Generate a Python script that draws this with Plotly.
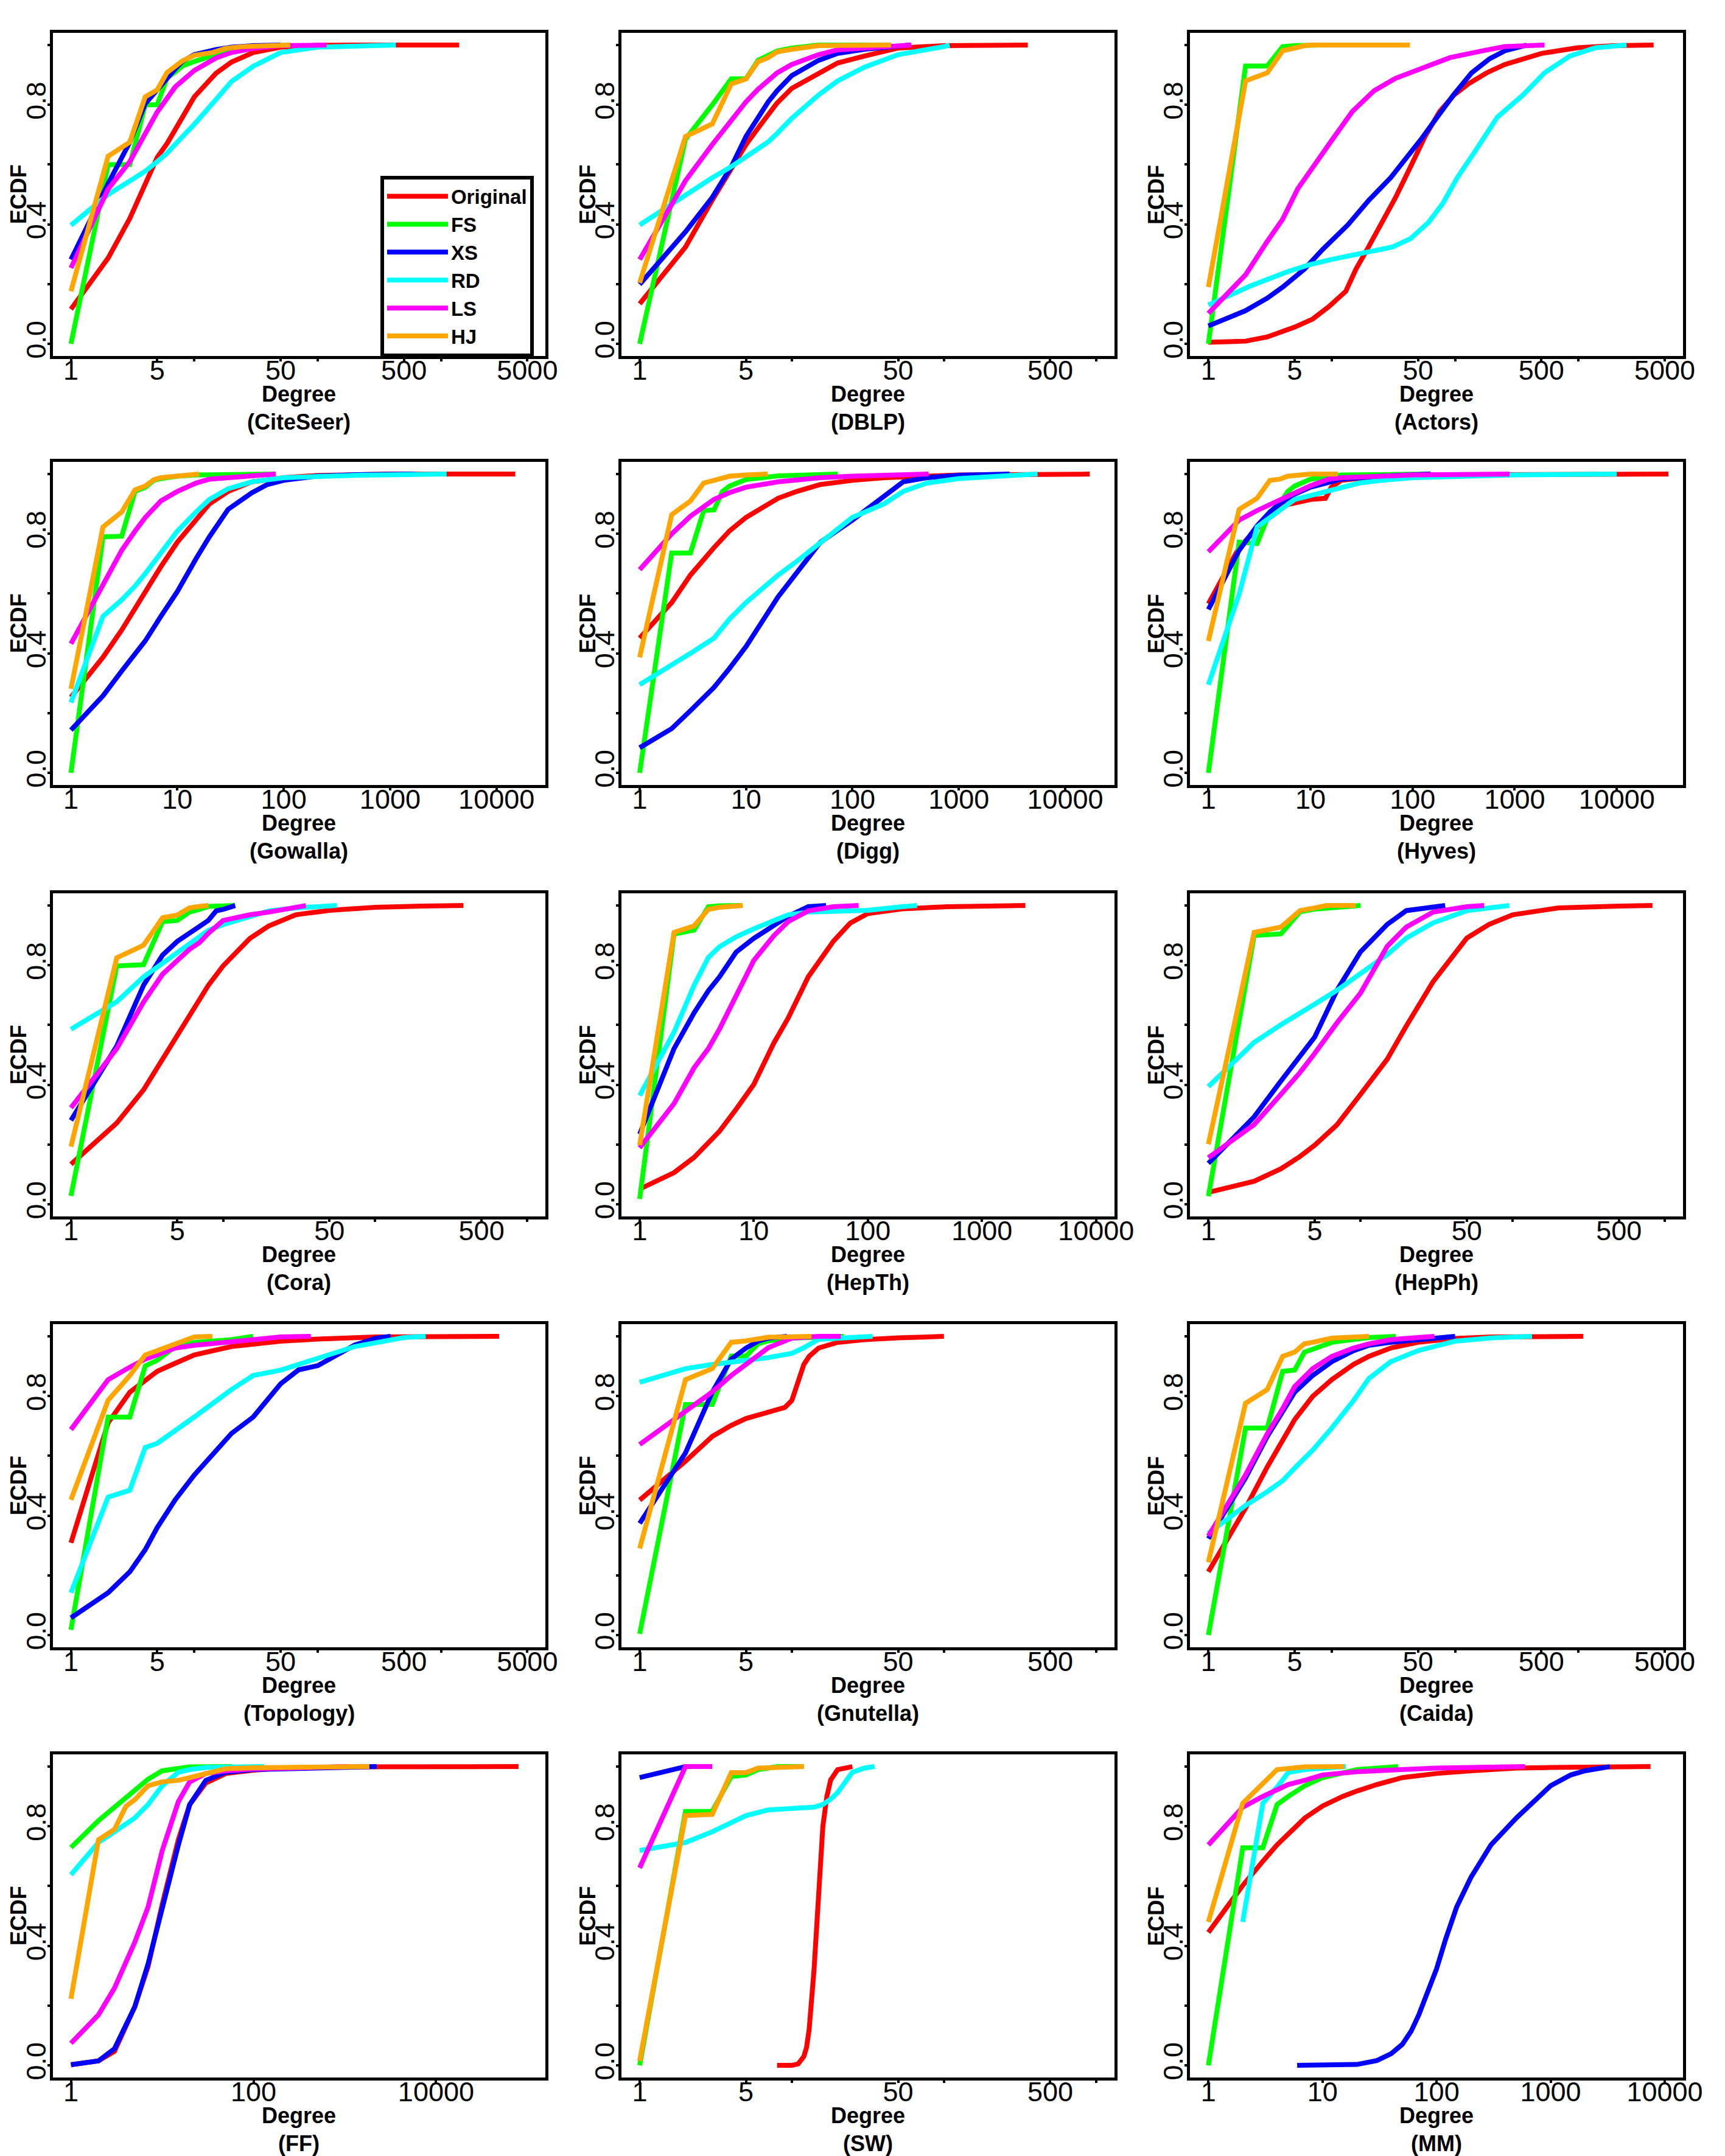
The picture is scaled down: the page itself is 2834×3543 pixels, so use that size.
import math
import plotly.graph_objects as go

W, H = 2834, 3543

METHODS = ["Original", "FS", "XS", "RD", "LS", "HJ"]
COLORS = ["#FF0000", "#00FF00", "#0000FF", "#00FFFF", "#FF00FF", "#FFA500"]

DATASETS = ["CiteSeer", "DBLP", "Actors", "Gowalla", "Digg", "Hyves",
            "Cora", "HepTh", "HepPh", "Topology", "Gnutella", "Caida",
            "FF", "SW", "MM"]
XLIM_MAX = [5000, 1000, 5000, 19500, 19500, 29500,
            1000, 10000, 1000, 5000, 1000, 5000,
            100000, 1000, 10000]

Y_TICKS = [0, 0.2, 0.4, 0.6, 0.8, 1.0]
Y_TICK_TEXT = ["0.0", "", "0.4", "", "0.8", ""]
X_TICKS_15 = [1, 5, 10, 50, 100, 500, 1000, 5000]
X_TEXT_15 = ["1", "5", "", "50", "", "500", "", "5000"]
X_TICKS_DEC = [1, 10, 100, 1000, 10000]
X_TEXT_DEC = ["1", "10", "100", "1000", "10000"]
X_TICKS_FF = [1, 100, 10000]
X_TEXT_FF = ["1", "100", "10000"]

# ---- ECDF curves: method -> (degrees, ecdf) ----
CITESEER = {
    "Original": ([1, 2, 3, 4, 5, 6, 7, 8, 10, 15, 20, 30, 50, 100, 200, 1400],
                 [0.116, 0.287, 0.42, 0.53, 0.624, 0.67, 0.72, 0.758, 0.827, 0.906, 0.943, 0.975, 0.993, 0.999, 1.0, 1.0]),
    "FS": ([1, 2, 3, 4, 5, 6, 7, 8, 10, 15, 20, 30, 60],
           [0.0, 0.6, 0.6, 0.80, 0.80, 0.89, 0.91, 0.93, 0.945, 0.97, 0.985, 0.995, 1.0]),
    "XS": ([1, 2, 3, 4, 5, 6, 7, 8, 10, 15, 20, 30, 50],
           [0.282, 0.536, 0.675, 0.804, 0.85, 0.89, 0.92, 0.945, 0.968, 0.985, 0.993, 0.998, 1.0]),
    "RD": ([1, 2, 3, 4, 5, 6, 8, 10, 15, 20, 30, 50, 100, 200, 430],
           [0.397, 0.5, 0.545, 0.578, 0.61, 0.638, 0.693, 0.735, 0.818, 0.878, 0.929, 0.975, 0.993, 0.998, 1.0]),
    "LS": ([1, 2, 3, 4, 5, 7, 10, 15, 20, 30, 50, 118],
           [0.254, 0.518, 0.61, 0.707, 0.776, 0.86, 0.915, 0.957, 0.975, 0.989, 0.998, 1.0]),
    "HJ": ([1, 2, 3, 4, 5, 6, 8, 10, 14, 18, 25, 60],
           [0.176, 0.628, 0.675, 0.827, 0.85, 0.908, 0.947, 0.966, 0.975, 0.989, 0.995, 1.0]),
}
DBLP = {
    "Original": ([1, 2, 3, 4, 5, 6, 7, 8, 10, 15, 20, 30, 50, 100, 356],
                 [0.134, 0.324, 0.481, 0.583, 0.667, 0.722, 0.769, 0.806, 0.855, 0.907, 0.94, 0.963, 0.99, 0.998, 1.0]),
    "FS": ([1, 2, 3, 4, 5, 6, 8, 10, 15, 45],
           [0.0, 0.685, 0.80, 0.887, 0.887, 0.949, 0.98, 0.99, 1.0, 1.0]),
    "XS": ([1, 2, 3, 4, 5, 6, 7, 8, 10, 15, 20, 30, 50, 60],
           [0.199, 0.375, 0.49, 0.593, 0.694, 0.759, 0.81, 0.847, 0.898, 0.949, 0.972, 0.986, 0.995, 1.0]),
    "RD": ([1, 2, 3, 4, 5, 6, 7, 8, 10, 15, 20, 30, 50, 100, 109],
           [0.398, 0.5, 0.556, 0.593, 0.625, 0.653, 0.676, 0.704, 0.755, 0.833, 0.88, 0.926, 0.968, 0.995, 1.0]),
    "LS": ([1, 2, 3, 4, 5, 6, 7, 8, 10, 15, 20, 30, 50, 61],
           [0.282, 0.546, 0.667, 0.75, 0.81, 0.852, 0.884, 0.907, 0.935, 0.968, 0.984, 0.99, 0.998, 1.0]),
    "HJ": ([1, 2, 3, 4, 5, 6, 7, 8, 10, 15, 45],
           [0.204, 0.694, 0.736, 0.87, 0.887, 0.944, 0.958, 0.977, 0.986, 0.998, 1.0]),
}
ACTORS = {
    "Original": ([1, 2, 3, 5, 7, 9.5, 13, 15.7, 19.3, 25, 33, 43.5, 57, 75, 98, 128, 180, 253, 355, 500, 980, 1930, 4060],
                 [0.005, 0.009, 0.023, 0.056, 0.083, 0.125, 0.176, 0.25, 0.315, 0.398, 0.491, 0.593, 0.694, 0.778, 0.833, 0.87, 0.907, 0.935, 0.954, 0.972, 0.991, 0.998, 1.0]),
    "FS": ([1, 2, 3, 4, 5, 6, 8],
           [0.0, 0.93, 0.93, 0.995, 0.998, 1.0, 1.0]),
    "XS": ([1, 2, 3, 4, 6, 8.4, 13.5, 20, 30, 40, 53, 69, 97, 136, 190, 253, 380],
           [0.06, 0.111, 0.153, 0.19, 0.25, 0.315, 0.398, 0.481, 0.556, 0.62, 0.685, 0.75, 0.833, 0.907, 0.954, 0.981, 1.0]),
    "RD": ([1, 2.2, 4.35, 6.5, 9.8, 16.8, 31, 43.5, 61, 80, 104, 147, 220, 355, 530, 850, 1370, 2450],
           [0.13, 0.194, 0.241, 0.264, 0.282, 0.301, 0.324, 0.352, 0.407, 0.472, 0.556, 0.648, 0.759, 0.833, 0.907, 0.963, 0.991, 1.0]),
    "LS": ([1, 2, 3, 4, 5.3, 7, 9.8, 14.7, 22, 33, 50, 91, 168, 253, 530],
           [0.102, 0.231, 0.343, 0.417, 0.519, 0.593, 0.676, 0.778, 0.847, 0.889, 0.917, 0.958, 0.981, 0.995, 1.0]),
    "HJ": ([1, 2, 3, 4, 5, 6, 7, 43],
           [0.19, 0.88, 0.907, 0.981, 0.99, 0.998, 1.0, 1.0]),
}
GOWALLA = {
    "Original": ([1, 2, 3, 4, 5, 7, 10, 20, 30, 50, 100, 200, 1000, 15000],
                 [0.253, 0.387, 0.478, 0.552, 0.607, 0.69, 0.772, 0.9, 0.942, 0.974, 0.988, 0.995, 1.0, 1.0]),
    "FS": ([1, 2, 3, 4, 5, 6, 7, 10, 15, 84],
           [0.0, 0.79, 0.792, 0.942, 0.956, 0.979, 0.985, 0.993, 0.997, 1.0]),
    "XS": ([1, 2, 3, 4, 5, 7, 10, 15, 20, 30, 50, 70, 100, 200, 500, 1700],
           [0.143, 0.258, 0.341, 0.396, 0.442, 0.524, 0.607, 0.717, 0.79, 0.882, 0.937, 0.965, 0.979, 0.993, 0.998, 1.0]),
    "RD": ([1, 2, 3, 4, 5, 7, 10, 15, 20, 30, 50, 100, 500, 3400],
           [0.235, 0.524, 0.579, 0.625, 0.667, 0.735, 0.809, 0.873, 0.915, 0.951, 0.974, 0.988, 0.996, 1.0]),
    "LS": ([1, 2, 3, 4, 5, 7, 10, 15, 20, 50, 84],
           [0.432, 0.625, 0.745, 0.809, 0.855, 0.91, 0.942, 0.97, 0.983, 0.994, 1.0]),
    "HJ": ([1, 2, 3, 4, 5, 6, 7, 10, 16],
           [0.281, 0.823, 0.873, 0.947, 0.96, 0.981, 0.988, 0.994, 1.0]),
}
DIGG = {
    "Original": ([1, 2, 3, 4, 5, 7, 10, 20, 30, 50, 100, 200, 500, 1000, 17000],
                 [0.451, 0.57, 0.662, 0.717, 0.754, 0.81, 0.855, 0.919, 0.942, 0.965, 0.979, 0.988, 0.994, 0.997, 1.0]),
    "FS": ([1, 2, 3, 4, 5, 6, 7, 10, 20, 73],
           [0.0, 0.736, 0.736, 0.878, 0.88, 0.942, 0.96, 0.982, 0.994, 1.0]),
    "XS": ([1, 2, 3, 4, 5, 7, 10, 20, 30, 50, 100, 200, 300, 500, 1000, 3000],
           [0.084, 0.148, 0.208, 0.249, 0.286, 0.35, 0.423, 0.589, 0.671, 0.772, 0.846, 0.928, 0.974, 0.988, 0.996, 1.0]),
    "RD": ([1, 2, 3, 5, 7, 10, 20, 30, 50, 100, 200, 300, 500, 1000, 3000, 5500],
           [0.295, 0.359, 0.4, 0.451, 0.515, 0.57, 0.662, 0.708, 0.772, 0.855, 0.901, 0.942, 0.97, 0.985, 0.995, 1.0]),
    "LS": ([1, 2, 3, 4, 5, 7, 10, 20, 50, 100, 200, 520],
           [0.68, 0.8, 0.859, 0.892, 0.915, 0.938, 0.956, 0.974, 0.988, 0.993, 0.997, 1.0]),
    "HJ": ([1, 2, 3, 4, 5, 7, 10, 16],
           [0.387, 0.864, 0.91, 0.97, 0.979, 0.993, 0.997, 1.0]),
}
HYVES = {
    "Original": ([1, 2, 3, 4, 5, 7, 10, 14, 16, 20, 50, 100, 32000],
                 [0.566, 0.754, 0.818, 0.868, 0.892, 0.905, 0.915, 0.919, 0.956, 0.979, 0.993, 0.997, 1.0]),
    "FS": ([1, 2, 3, 4, 5, 6, 7, 10, 20, 150],
           [0.0, 0.772, 0.768, 0.873, 0.901, 0.942, 0.96, 0.983, 0.997, 1.0]),
    "XS": ([1, 2, 3, 4, 5, 7, 10, 15, 20, 50, 150],
           [0.547, 0.745, 0.827, 0.873, 0.901, 0.933, 0.956, 0.974, 0.983, 0.993, 1.0]),
    "RD": ([1, 2, 3, 4, 5, 7, 10, 15, 20, 30, 50, 100, 1000, 10000],
           [0.295, 0.598, 0.823, 0.855, 0.878, 0.915, 0.928, 0.942, 0.956, 0.97, 0.979, 0.988, 0.997, 1.0]),
    "LS": ([1, 2, 3, 5, 7, 10, 15, 20, 50, 100, 890],
           [0.74, 0.846, 0.878, 0.915, 0.938, 0.961, 0.983, 0.988, 0.993, 0.997, 1.0]),
    "HJ": ([1, 2, 3, 4, 5, 6, 10, 18.5],
           [0.441, 0.882, 0.919, 0.979, 0.983, 0.993, 1.0, 1.0]),
}
CORA = {
    "Original": ([1, 2, 3, 4, 5, 6, 7, 8, 10, 15, 20, 30, 50, 100, 200, 380],
                 [0.134, 0.272, 0.383, 0.484, 0.567, 0.632, 0.687, 0.733, 0.798, 0.89, 0.932, 0.969, 0.984, 0.994, 0.998, 1.0]),
    "FS": ([1, 2, 3, 4, 5, 6, 7, 8, 12],
           [0.028, 0.798, 0.802, 0.946, 0.95, 0.978, 0.987, 0.997, 1.0]),
    "XS": ([1, 2, 3, 4, 5, 6, 7, 8, 9, 10, 12],
           [0.281, 0.53, 0.733, 0.834, 0.88, 0.907, 0.932, 0.95, 0.982, 0.987, 1.0]),
    "RD": ([1, 2, 3, 4, 5, 6, 7, 8, 10, 15, 20, 30, 50, 56],
           [0.586, 0.678, 0.761, 0.807, 0.839, 0.867, 0.894, 0.917, 0.936, 0.964, 0.982, 0.992, 0.998, 1.0]),
    "LS": ([1, 2, 3, 4, 5, 6, 7, 8, 10, 15, 20, 30, 35],
           [0.323, 0.521, 0.677, 0.77, 0.816, 0.853, 0.876, 0.907, 0.95, 0.969, 0.978, 0.992, 1.0]),
    "HJ": ([1, 2, 3, 4, 5, 6, 7, 8],
           [0.193, 0.825, 0.867, 0.959, 0.968, 0.992, 0.997, 1.0]),
}
HEPTH = {
    "Original": ([1, 2, 3, 4, 5, 7, 10, 15, 20, 30, 50, 70, 100, 200, 500, 2400],
                 [0.051, 0.106, 0.157, 0.208, 0.244, 0.318, 0.401, 0.54, 0.623, 0.761, 0.881, 0.941, 0.973, 0.989, 0.996, 1.0]),
    "FS": ([1, 2, 3, 4, 5, 8],
           [0.018, 0.904, 0.918, 0.996, 0.999, 1.0]),
    "XS": ([1, 2, 3, 4, 5, 7, 10, 15, 20, 30, 43],
           [0.235, 0.521, 0.641, 0.715, 0.761, 0.844, 0.89, 0.936, 0.964, 0.996, 1.0]),
    "RD": ([1, 2, 3, 4, 5, 7, 10, 15, 20, 30, 100, 200, 270],
           [0.364, 0.576, 0.733, 0.826, 0.862, 0.895, 0.922, 0.95, 0.969, 0.978, 0.984, 0.996, 1.0]),
    "LS": ([1, 2, 3, 4, 5, 7, 10, 15, 20, 30, 50, 83],
           [0.189, 0.337, 0.457, 0.521, 0.586, 0.697, 0.816, 0.899, 0.946, 0.982, 0.996, 1.0]),
    "HJ": ([1, 2, 3, 4, 5, 8],
           [0.198, 0.91, 0.932, 0.987, 0.994, 1.0]),
}
HEPPH = {
    "Original": ([1, 2, 3, 4, 5, 7, 10, 15, 20, 30, 50, 70, 100, 200, 500, 830],
                 [0.04, 0.077, 0.119, 0.16, 0.198, 0.266, 0.368, 0.486, 0.597, 0.745, 0.891, 0.937, 0.969, 0.992, 0.998, 1.0]),
    "FS": ([1, 2, 3, 4, 5, 6, 10],
           [0.027, 0.9, 0.905, 0.979, 0.988, 0.992, 1.0]),
    "XS": ([1, 2, 3, 4, 5, 7, 10, 15, 20, 36],
           [0.137, 0.293, 0.413, 0.495, 0.56, 0.716, 0.845, 0.937, 0.983, 1.0]),
    "RD": ([1, 2, 3, 4, 5, 7, 10, 15, 20, 30, 50, 95],
           [0.394, 0.542, 0.601, 0.638, 0.67, 0.716, 0.772, 0.836, 0.891, 0.942, 0.983, 1.0]),
    "LS": ([1, 2, 3, 4, 5, 7, 10, 15, 20, 30, 50, 65],
           [0.156, 0.267, 0.368, 0.441, 0.505, 0.607, 0.707, 0.864, 0.928, 0.978, 0.996, 1.0]),
    "HJ": ([1, 2, 3, 4, 5, 6, 9.3],
           [0.201, 0.91, 0.928, 0.983, 0.992, 1.0, 1.0]),
}
TOPOLOGY = {
    "Original": ([1, 2, 3, 4, 5, 7, 10, 20, 30, 50, 100, 300, 2950],
                 [0.309, 0.711, 0.813, 0.855, 0.883, 0.91, 0.938, 0.966, 0.975, 0.984, 0.991, 0.998, 1.0]),
    "FS": ([1, 2, 3, 4, 5, 7, 10, 20, 30],
           [0.018, 0.73, 0.73, 0.901, 0.92, 0.966, 0.98, 0.989, 1.0]),
    "XS": ([1, 2, 3, 4, 5, 7, 10, 15, 20, 30, 50, 70, 100, 200, 300, 390],
           [0.058, 0.142, 0.212, 0.286, 0.36, 0.453, 0.536, 0.62, 0.675, 0.73, 0.841, 0.888, 0.902, 0.971, 0.994, 1.0]),
    "RD": ([1, 2, 3, 4, 5, 7, 10, 20, 30, 50, 70, 100, 200, 500, 750],
           [0.142, 0.462, 0.485, 0.628, 0.642, 0.684, 0.73, 0.822, 0.869, 0.887, 0.906, 0.929, 0.966, 0.996, 1.0]),
    "LS": ([1, 2, 3, 4, 5, 7, 10, 20, 30, 50, 88],
           [0.688, 0.855, 0.897, 0.924, 0.938, 0.961, 0.97, 0.98, 0.989, 0.998, 1.0]),
    "HJ": ([1, 2, 3, 4, 5, 7, 10, 14],
           [0.453, 0.786, 0.869, 0.938, 0.952, 0.975, 0.998, 1.0]),
}
GNUTELLA = {
    "Original": ([1, 2, 3, 4, 5, 7, 8, 9, 10, 11, 12, 13, 15, 20, 30, 50, 100],
                 [0.452, 0.582, 0.665, 0.702, 0.725, 0.748, 0.758, 0.762, 0.785, 0.85, 0.906, 0.933, 0.961, 0.98, 0.989, 0.995, 1.0]),
    "FS": ([1, 2, 3, 4, 5, 6, 7, 10, 22],
           [0.004, 0.772, 0.772, 0.934, 0.934, 0.975, 0.985, 0.994, 1.0]),
    "XS": ([1, 2, 3, 4, 5, 6, 7, 9.3],
           [0.374, 0.61, 0.813, 0.924, 0.961, 0.984, 0.994, 1.0]),
    "RD": ([1, 2, 3, 5, 7, 10, 12, 15, 20, 34],
           [0.846, 0.892, 0.906, 0.92, 0.929, 0.943, 0.962, 0.99, 0.994, 1.0]),
    "LS": ([1, 2, 3, 4, 5, 7, 10, 15, 21],
           [0.638, 0.749, 0.814, 0.869, 0.906, 0.962, 0.994, 1.0, 1.0]),
    "HJ": ([1, 2, 3, 4, 5, 7, 13.5],
           [0.29, 0.855, 0.892, 0.98, 0.985, 0.997, 1.0]),
}
CAIDA = {
    "Original": ([1, 2, 3, 4, 5, 7, 10, 15, 20, 30, 50, 100, 200, 1090],
                 [0.212, 0.425, 0.563, 0.656, 0.721, 0.799, 0.855, 0.906, 0.933, 0.961, 0.98, 0.993, 0.998, 1.0]),
    "FS": ([1, 2, 3, 4, 5, 6, 7, 10, 20, 33],
           [0.0, 0.693, 0.693, 0.883, 0.887, 0.947, 0.957, 0.98, 0.996, 1.0]),
    "XS": ([1, 2, 3, 4, 5, 7, 10, 15, 20, 30, 50, 100],
           [0.323, 0.526, 0.665, 0.748, 0.813, 0.869, 0.915, 0.952, 0.97, 0.98, 0.989, 1.0]),
    "RD": ([1, 2, 3, 4, 5, 7, 10, 15, 20, 30, 50, 100, 200, 420],
           [0.341, 0.434, 0.48, 0.517, 0.559, 0.619, 0.693, 0.785, 0.859, 0.915, 0.952, 0.984, 0.995, 1.0]),
    "LS": ([1, 2, 3, 4, 5, 7, 10, 15, 20, 30, 68],
           [0.332, 0.536, 0.674, 0.758, 0.832, 0.892, 0.933, 0.961, 0.975, 0.989, 1.0]),
    "HJ": ([1, 2, 3, 4, 5, 6, 7, 10, 20],
           [0.244, 0.776, 0.822, 0.933, 0.947, 0.975, 0.98, 0.994, 1.0]),
}
FF = {
    "Original": ([1, 2, 3, 5, 7, 10, 15, 20, 30, 50, 100, 200, 1000, 80000],
                 [0.002, 0.015, 0.047, 0.196, 0.331, 0.539, 0.755, 0.873, 0.945, 0.977, 0.988, 0.995, 0.999, 1.0]),
    "FS": ([1, 2, 3, 5, 7, 10, 15, 20, 58],
           [0.729, 0.819, 0.864, 0.922, 0.958, 0.986, 0.995, 0.999, 1.0]),
    "XS": ([1, 2, 3, 5, 7, 10, 15, 20, 30, 50, 100, 2240],
           [0.002, 0.015, 0.056, 0.196, 0.34, 0.53, 0.737, 0.873, 0.954, 0.981, 0.99, 1.0]),
    "RD": ([1, 2, 3, 5, 7, 10, 15, 20, 30, 130],
           [0.638, 0.746, 0.782, 0.828, 0.873, 0.936, 0.981, 0.99, 0.997, 1.0]),
    "LS": ([1, 2, 3, 5, 7, 10, 15, 20, 30, 50, 100, 1070],
           [0.074, 0.169, 0.259, 0.412, 0.53, 0.719, 0.882, 0.949, 0.977, 0.986, 0.992, 1.0]),
    "HJ": ([1, 2, 3, 4, 5, 7, 10, 15, 20, 30, 50, 100, 1860],
           [0.223, 0.755, 0.79, 0.867, 0.889, 0.936, 0.949, 0.954, 0.963, 0.977, 0.993, 0.996, 1.0]),
}
SW = {
    "Original": ([8, 10, 11, 12, 12.5, 13, 14, 15, 16, 17, 18, 20, 25],
                 [0.0, 0.0, 0.005, 0.03, 0.06, 0.12, 0.32, 0.6, 0.8, 0.9, 0.955, 0.99, 1.0]),
    "FS": ([1, 2, 3, 4, 5, 6, 7, 8, 12],
           [0.0, 0.85, 0.85, 0.967, 0.972, 0.99, 0.995, 1.0, 1.0]),
    "XS": ([1, 2],
           [0.963, 1.0]),
    "RD": ([1, 2, 3, 4, 5, 7, 10, 12, 14, 16, 18, 20, 22, 25, 30, 35],
           [0.719, 0.746, 0.782, 0.81, 0.836, 0.855, 0.859, 0.859, 0.864, 0.873, 0.891, 0.913, 0.94, 0.981, 0.995, 1.0]),
    "LS": ([1, 2, 3],
           [0.661, 1.0, 1.0]),
    "HJ": ([1, 2, 3, 4, 5, 6, 12],
           [0.015, 0.836, 0.84, 0.98, 0.98, 0.995, 1.0]),
}
MM = {
    "Original": ([1, 2, 3, 4, 5, 7, 10, 15, 20, 30, 50, 100, 200, 500, 1000, 7500],
                 [0.445, 0.602, 0.683, 0.738, 0.774, 0.828, 0.868, 0.9, 0.918, 0.94, 0.963, 0.977, 0.986, 0.995, 0.997, 1.0]),
    "FS": ([1, 2, 3, 4, 5, 7, 10, 20, 46],
           [0.0, 0.728, 0.728, 0.873, 0.9, 0.936, 0.963, 0.99, 1.0]),
    "XS": ([6, 10, 20, 30, 40, 50, 60, 70, 80, 100, 120, 150, 200, 300, 500, 700, 1000, 1500, 2000, 3300],
           [0.0, 0.0, 0.003, 0.016, 0.039, 0.07, 0.115, 0.17, 0.224, 0.323, 0.422, 0.53, 0.629, 0.738, 0.828, 0.882, 0.936, 0.972, 0.986, 1.0]),
    "RD": ([2, 3, 4, 5, 7, 10, 16],
           [0.48, 0.877, 0.931, 0.98, 0.99, 0.995, 1.0]),
    "LS": ([1, 2, 3, 5, 7, 10, 20, 50, 100, 595],
           [0.738, 0.864, 0.9, 0.94, 0.954, 0.972, 0.983, 0.99, 0.995, 1.0]),
    "HJ": ([1, 2, 4, 5, 7, 15.5],
           [0.48, 0.877, 0.99, 0.993, 0.999, 1.0]),
}

PANELS = [CITESEER, DBLP, ACTORS, GOWALLA, DIGG, HYVES, CORA, HEPTH, HEPPH,
          TOPOLOGY, GNUTELLA, CAIDA, FF, SW, MM]

# ---- layout geometry (pixels, measured at the frame line centres) ----
COL_LEFT = [77, 1022, 1967]
ROW_TOP = [44, 750, 1460, 2169, 2877]
BOX_W, BOX_H = 824, 536
LW = 5  # frame line width

FONT = "Liberation Sans, Arial, sans-serif"

fig = go.Figure()
annotations = []
layout = {}

for i, (dname, series) in enumerate(zip(DATASETS, PANELS)):
    r, c = divmod(i, 3)
    k = i + 1
    xname = "x" if k == 1 else f"x{k}"
    yname = "y" if k == 1 else f"y{k}"
    for m, col in zip(METHODS, COLORS):
        xs, ys = series[m]
        fig.add_trace(go.Scatter(
            x=xs, y=ys, mode="lines", name=m,
            line=dict(color=col, width=8),
            showlegend=(i == 0),
            xaxis=xname, yaxis=yname, hoverinfo="skip"))

    left, top = COL_LEFT[c], ROW_TOP[r]
    L = math.log10(XLIM_MAX[i])
    if dname == "FF":
        tv, tt = X_TICKS_FF, X_TEXT_FF
    elif XLIM_MAX[i] >= 10000:
        tv, tt = X_TICKS_DEC, X_TEXT_DEC
    else:
        pairs = [(v, t) for v, t in zip(X_TICKS_15, X_TEXT_15) if v <= XLIM_MAX[i] * 1.01]
        tv, tt = [p[0] for p in pairs], [p[1] for p in pairs]

    common = dict(showline=True, mirror=True, linecolor="black", linewidth=LW,
                  ticks="outside", ticklen=4, tickwidth=4, tickcolor="black",
                  showgrid=False, zeroline=False,
                  tickfont=dict(family=FONT, size=45, color="black"))
    half = LW / 2
    layout["xaxis" if k == 1 else f"xaxis{k}"] = dict(
        domain=[(left + half) / W, (left + BOX_W - half) / W], anchor=yname,
        type="log", range=[-0.04 * L, 1.04 * L],
        tickmode="array", tickvals=tv, ticktext=tt, tickangle=0,
        ticklabelstandoff=-24, **common)
    layout["yaxis" if k == 1 else f"yaxis{k}"] = dict(
        domain=[1 - (top + BOX_H - half) / H, 1 - (top + half) / H], anchor=xname,
        range=[-0.04, 1.04], tickmode="array", tickvals=Y_TICKS,
        ticktext=Y_TICK_TEXT, tickangle=-90,
        ticklabelstandoff=-15, **common)

    annotations.append(dict(
        text="ECDF", textangle=-90, xref="paper", yref="paper",
        x=(left - 54) / W, y=1 - (top + BOX_H / 2) / H,
        xanchor="center", yanchor="middle", showarrow=False,
        font=dict(family=FONT, size=36, color="black", weight="bold")))
    annotations.append(dict(
        text="Degree", xref="paper", yref="paper",
        x=(left + BOX_W / 2) / W, y=1 - (top + BOX_H + 60) / H,
        xanchor="center", yanchor="middle", showarrow=False,
        font=dict(family=FONT, size=36, color="black", weight="bold")))
    annotations.append(dict(
        text=f"({dname})", xref="paper", yref="paper",
        x=(left + BOX_W / 2) / W, y=1 - (top + BOX_H + 106) / H,
        xanchor="center", yanchor="middle", showarrow=False,
        font=dict(family=FONT, size=36, color="black", weight="bold")))

fig.update_layout(
    width=W, height=H,
    margin=dict(l=0, r=0, t=0, b=0),
    paper_bgcolor="white", plot_bgcolor="white",
    showlegend=True,
    legend=dict(x=624 / W, y=1 - 281 / H, xanchor="left", yanchor="top",
                bgcolor="white", bordercolor="black", borderwidth=6,
                font=dict(family=FONT, size=33, color="black", weight="bold"),
                tracegroupgap=0, itemwidth=100),
    annotations=annotations,
    **layout)

fig.write_html("out.html")
